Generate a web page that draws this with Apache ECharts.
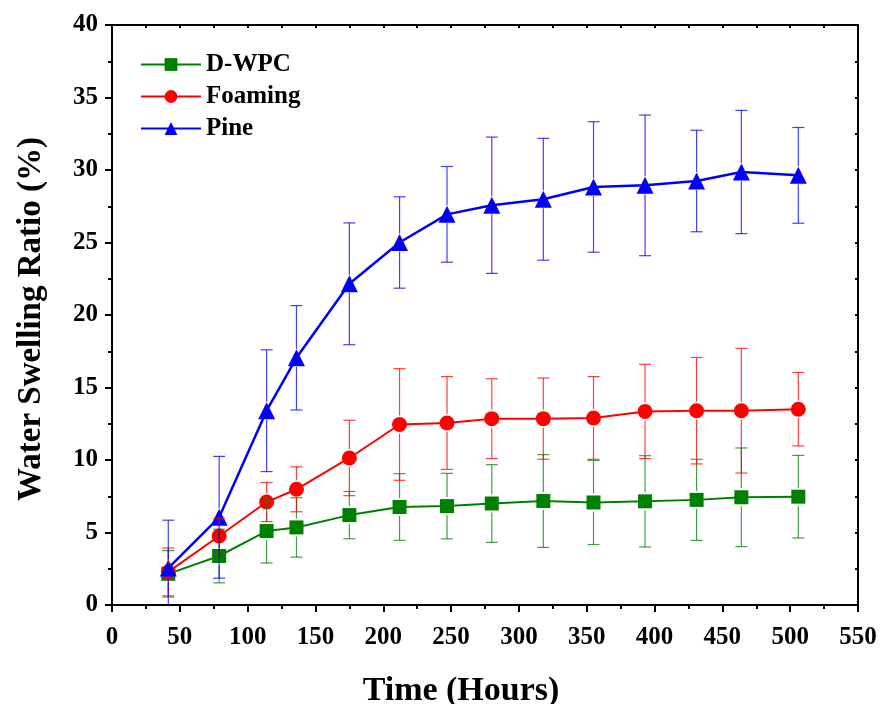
<!DOCTYPE html>
<html>
<head>
    <meta charset="UTF-8">
    <title>Water Swelling Ratio</title>
    <script src="https://cdn.jsdelivr.net/npm/echarts@6/dist/echarts.min.js"></script>
    <style>
        html, body { margin: 0; padding: 0; background: #fff; }
        #main { width: 880px; height: 704px; }
    </style>
</head>
<body>
    <div id="main"></div>
    <script type="text/javascript">
        // time points (hours)
        var hours = [41.5, 79, 114, 136, 175, 212, 247, 280, 318, 355, 393, 431, 464, 506];
        // swelling ratio (%) and standard deviation
        var dwpc = [2.15, 3.38, 5.1, 5.35, 6.2, 6.76, 6.82, 7.0, 7.17, 7.07, 7.15, 7.25, 7.43, 7.47];
        var dwpcErr = [1.6, 1.85, 2.2, 2.05, 1.63, 2.3, 2.26, 2.68, 3.2, 2.9, 3.15, 2.8, 3.4, 2.85];
        var foam = [2.28, 4.76, 7.1, 7.98, 10.14, 12.45, 12.55, 12.85, 12.85, 12.9, 13.35, 13.4, 13.4, 13.5];
        var foamErr = [1.65, 1.22, 1.35, 1.55, 2.6, 3.85, 3.2, 2.75, 2.8, 2.85, 3.25, 3.67, 4.3, 2.53];
        var pine = [2.55, 6.05, 13.4, 17.05, 22.15, 25.0, 26.94, 27.57, 27.98, 28.83, 28.94, 29.24, 29.86, 29.63];
        var pineErr = [3.3, 4.2, 4.2, 3.6, 4.2, 3.15, 3.3, 4.7, 4.2, 4.5, 4.85, 3.5, 4.25, 3.3];

        var font = "'Liberation Serif', 'Times New Roman', serif";

        function pairs(ys) {
            return hours.map(function (h, i) { return [h, ys[i]]; });
        }
        function triples(ys, es) {
            return hours.map(function (h, i) { return [h, ys[i], es[i]]; });
        }

        // error bars: vertical line with caps, small gap around own marker
        function errRender(color) {
            return function (params, api) {
                var x = api.value(0), y = api.value(1), e = api.value(2);
                var c = api.coord([x, y]);
                var hi = api.coord([x, y + e]);
                var lo = api.coord([x, y - e]);
                var cs = params.coordSys;
                var bottom = cs.y + cs.height;
                var clipped = lo[1] > bottom;
                if (clipped) lo[1] = bottom;
                var gap = 9, hw = 6;
                var st = { stroke: color, lineWidth: 1.2 };
                var kids = [
                    { type: 'line', shape: { x1: c[0], y1: hi[1], x2: c[0], y2: c[1] - gap }, style: st },
                    { type: 'line', shape: { x1: c[0], y1: c[1] + gap, x2: c[0], y2: lo[1] }, style: st },
                    { type: 'line', shape: { x1: c[0] - hw, y1: hi[1], x2: c[0] + hw, y2: hi[1] }, style: st }
                ];
                if (!clipped) {
                    kids.push({ type: 'line', shape: { x1: c[0] - hw, y1: lo[1], x2: c[0] + hw, y2: lo[1] }, style: st });
                }
                return { type: 'group', children: kids };
            };
        }

        var myChart = echarts.init(document.getElementById('main'));

        var tickLabel = { fontFamily: font, fontWeight: 'bold', fontSize: 25, color: '#000' };

        var option = {
            animation: false,
            backgroundColor: '#fff',
            grid: { left: 112, right: 22, top: 25, bottom: 99, outerBoundsMode: 'none' },
            legend: {
                left: 140,
                top: 52,
                padding: 0,
                orient: 'vertical',
                itemWidth: 60,
                itemHeight: 16,
                itemGap: 7,
                textStyle: { fontFamily: font, fontWeight: 'bold', fontSize: 25, color: '#000', lineHeight: 25 },
                data: ['D-WPC', 'Foaming', 'Pine']
            },
            xAxis: [
                {
                    type: 'value', position: 'bottom', min: 0, max: 550, interval: 50,
                    name: 'Time (Hours)', nameLocation: 'middle', nameGap: 69,
                    nameTextStyle: { fontFamily: font, fontWeight: 'bold', fontSize: 34, color: '#000', padding: [0, 48, 0, 0] },
                    axisLine: { onZero: false, lineStyle: { color: '#000', width: 2 } },
                    axisTick: { inside: false, length: 7, lineStyle: { width: 2, color: '#000' } },
                    minorTick: { show: true, splitNumber: 2, length: 4, lineStyle: { width: 2, color: '#000' } },
                    axisLabel: Object.assign({ margin: 20 }, tickLabel),
                    splitLine: { show: false }
                },
                {
                    type: 'value', position: 'top', min: 0, max: 550, interval: 50,
                    axisLine: { onZero: false, lineStyle: { color: '#000', width: 2 } },
                    axisTick: { inside: true, length: 3, lineStyle: { width: 2, color: '#000' } },
                    minorTick: { show: true, splitNumber: 2, length: 3, lineStyle: { width: 2, color: '#000' } },
                    axisLabel: { show: false },
                    splitLine: { show: false }
                }
            ],
            yAxis: [
                {
                    type: 'value', position: 'left', min: 0, max: 40, interval: 5,
                    name: 'Water Swelling Ratio (%)', nameLocation: 'middle', nameGap: 64, nameRotate: 90,
                    nameTextStyle: { fontFamily: font, fontWeight: 'bold', fontSize: 33, color: '#000', padding: [0, 8, 0, 0] },
                    axisLine: { onZero: false, lineStyle: { color: '#000', width: 2 } },
                    axisTick: { inside: false, length: 7, lineStyle: { width: 2, color: '#000' } },
                    minorTick: { show: true, splitNumber: 2, length: 4, lineStyle: { width: 2, color: '#000' } },
                    axisLabel: Object.assign({ margin: 14 }, tickLabel),
                    splitLine: { show: false }
                },
                {
                    type: 'value', position: 'right', min: 0, max: 40, interval: 5,
                    axisLine: { onZero: false, lineStyle: { color: '#000', width: 2 } },
                    axisTick: { inside: true, length: 3, lineStyle: { width: 2, color: '#000' } },
                    minorTick: { show: true, splitNumber: 2, length: 3, lineStyle: { width: 2, color: '#000' } },
                    axisLabel: { show: false },
                    splitLine: { show: false }
                }
            ],
            series: [
                {
                    name: 'D-WPC', type: 'line', data: pairs(dwpc), z: 2,
                    symbol: 'rect', symbolSize: 14, color: '#008000',
                    lineStyle: { width: 2, color: '#008000' }, itemStyle: { color: '#008000' }
                },
                {
                    name: 'Foaming', type: 'line', data: pairs(foam), z: 3,
                    symbol: 'circle', symbolSize: 15, color: '#ff0000',
                    lineStyle: { width: 2, color: '#ff0000' }, itemStyle: { color: '#ff0000' }
                },
                {
                    name: 'Pine', type: 'line', data: pairs(pine), z: 4,
                    symbol: 'triangle', symbolSize: 17, color: '#0000ff',
                    lineStyle: { width: 2.5, color: '#0000ff' }, itemStyle: { color: '#0000ff' }
                },
                {
                    type: 'custom', data: triples(dwpc, dwpcErr), z: 5,
                    renderItem: errRender('rgba(0,128,0,0.75)'), encode: { x: 0, y: 1 }
                },
                {
                    type: 'custom', data: triples(foam, foamErr), z: 5,
                    renderItem: errRender('rgba(255,0,0,0.75)'), encode: { x: 0, y: 1 }
                },
                {
                    type: 'custom', data: triples(pine, pineErr), z: 5,
                    renderItem: errRender('rgba(0,0,255,0.75)'), encode: { x: 0, y: 1 }
                }
            ]
        };

        myChart.setOption(option);
    </script>
</body>
</html>
